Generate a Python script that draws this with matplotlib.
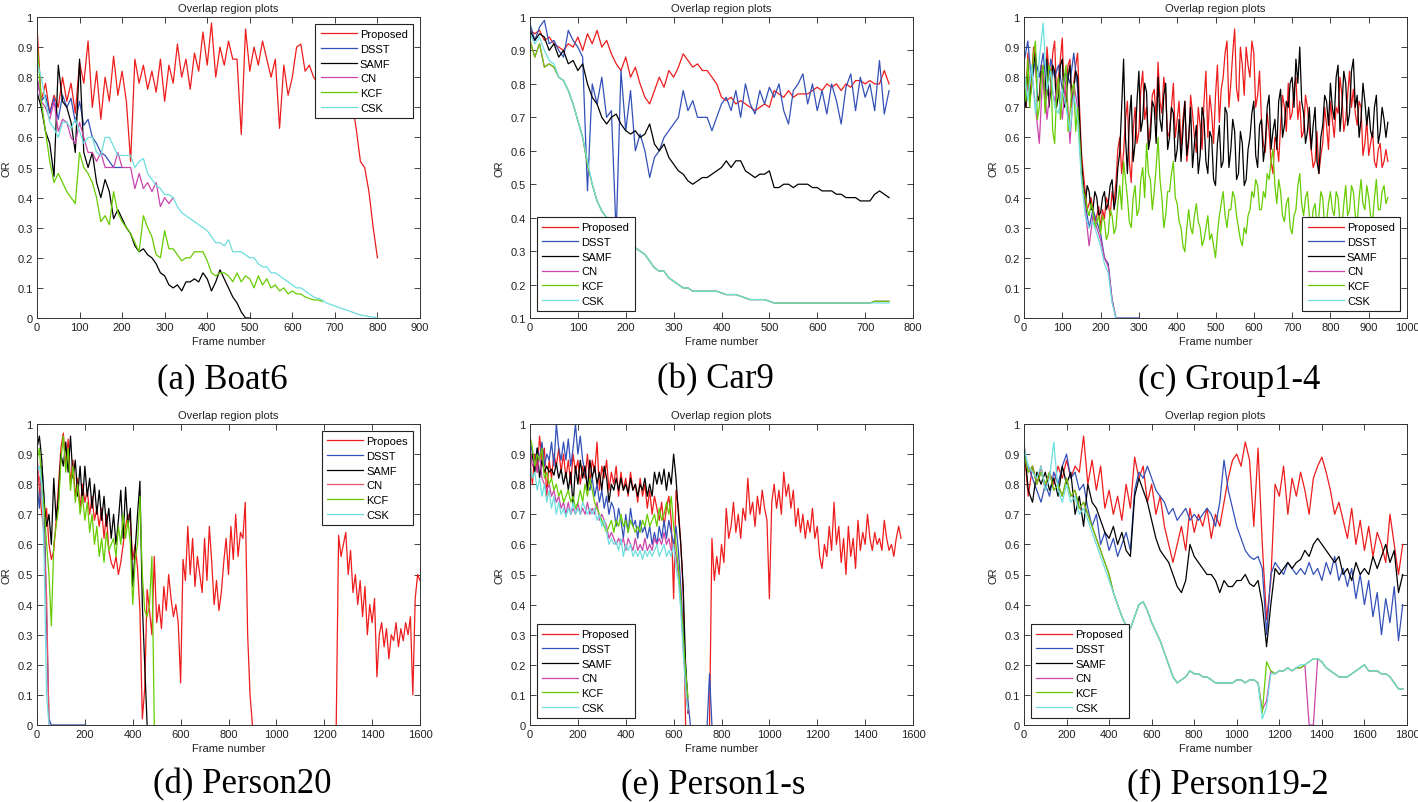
import numpy as np
import matplotlib
matplotlib.use('Agg')
import matplotlib.pyplot as plt
from matplotlib.ticker import FuncFormatter

plt.rcParams['font.family'] = ['Liberation Sans', 'DejaVu Sans']

# line colours (MATLAB-like)
RED = '#ee1c1c'
BLUE = '#3350b8'
BLACK = '#000000'
PINK = '#cc44aa'
GREEN = '#66cc00'
CYAN = '#6ddede'

# ---------------- (a) Boat6, one value every 10 frames ----------------
boat_proposed = [0.97, 0.72, 0.78, 0.68, 0.74, 0.70, 0.80, 0.72, 0.78, 0.68,
                 0.85, 0.78, 0.92, 0.70, 0.82, 0.66, 0.80, 0.72, 0.87, 0.74,
                 0.82, 0.72, 0.52, 0.86, 0.78, 0.84, 0.76, 0.82, 0.75, 0.86,
                 0.72, 0.84, 0.78, 0.91, 0.80, 0.86, 0.76, 0.88, 0.82, 0.95,
                 0.84, 0.98, 0.80, 0.90, 0.84, 0.92, 0.86, 0.86, 0.61, 0.96,
                 0.82, 0.90, 0.84, 0.92, 0.86, 0.80, 0.86, 0.63, 0.84, 0.74,
                 0.80, 0.90, 0.91, 0.82, 0.84, 0.80, 0.78, 0.82, 0.80, 0.84,
                 0.78, 0.82, 0.80, 0.76, 0.72, 0.63, 0.52, 0.50, 0.42, 0.30,
                 0.20]
boat_dsst = [0.80, 0.72, 0.74, 0.68, 0.73, 0.66, 0.74, 0.70, 0.73, 0.65,
             0.72, 0.64, 0.66, 0.60, 0.58, 0.55, 0.54, 0.52, 0.50, 0.50, 0.50]
boat_samf = [0.75, 0.70, 0.62, 0.58, 0.47, 0.84, 0.72, 0.70, 0.65, 0.55,
             0.86, 0.55, 0.50, 0.55, 0.45, 0.40, 0.46, 0.42, 0.33, 0.36,
             0.33, 0.30, 0.28, 0.24, 0.22, 0.23, 0.21, 0.20, 0.18, 0.15,
             0.14, 0.11, 0.10, 0.11, 0.09, 0.12, 0.12, 0.13, 0.12, 0.15,
             0.13, 0.09, 0.12, 0.16, 0.13, 0.10, 0.07, 0.05, 0.02, 0.00, 0.00]
boat_cn = [0.80, 0.72, 0.70, 0.66, 0.72, 0.62, 0.66, 0.65, 0.60, 0.58,
           0.65, 0.60, 0.55, 0.55, 0.52, 0.55, 0.50, 0.50, 0.50, 0.55,
           0.50, 0.50, 0.50, 0.43, 0.48, 0.43, 0.45, 0.42, 0.45, 0.37,
           0.40, 0.38, 0.40]
boat_kcf = [0.92, 0.72, 0.62, 0.52, 0.45, 0.48, 0.45, 0.42, 0.40, 0.38,
            0.55, 0.50, 0.48, 0.45, 0.40, 0.32, 0.34, 0.31, 0.42, 0.35,
            0.32, 0.30, 0.28, 0.25, 0.22, 0.34, 0.30, 0.27, 0.21, 0.20,
            0.29, 0.23, 0.23, 0.21, 0.19, 0.20, 0.20, 0.22, 0.22, 0.22,
            0.19, 0.15, 0.14, 0.15, 0.15, 0.14, 0.12, 0.15, 0.12, 0.14,
            0.13, 0.10, 0.14, 0.11, 0.13, 0.10, 0.11, 0.09, 0.10, 0.08,
            0.09, 0.08, 0.08, 0.07, 0.065, 0.06, 0.06, 0.055]
boat_csk = [0.85, 0.80, 0.72, 0.65, 0.63, 0.60, 0.65, 0.65, 0.63, 0.66,
            0.62, 0.58, 0.60, 0.60, 0.55, 0.54, 0.60, 0.60, 0.57, 0.54,
            0.54, 0.54, 0.54, 0.50, 0.52, 0.53, 0.48, 0.46, 0.44, 0.43,
            0.41, 0.41, 0.40, 0.37, 0.35, 0.34, 0.33, 0.32, 0.31, 0.30,
            0.29, 0.27, 0.25, 0.25, 0.24, 0.26, 0.22, 0.22, 0.22, 0.21,
            0.20, 0.20, 0.18, 0.17, 0.17, 0.15, 0.15, 0.14, 0.13, 0.12,
            0.11, 0.10, 0.10, 0.09, 0.08, 0.07, 0.065, 0.06, 0.05, 0.045,
            0.04, 0.035, 0.03, 0.025, 0.02, 0.015, 0.01, 0.008, 0.005, 0.003,
            0.0]

# ---------------- (b) Car9, every 10 frames ----------------
car_proposed = [0.96, 0.95, 0.96, 0.93, 0.94, 0.92, 0.91, 0.90, 0.92, 0.91,
                0.94, 0.90, 0.95, 0.92, 0.96, 0.91, 0.93, 0.89, 0.86, 0.84,
                0.88, 0.82, 0.85, 0.80, 0.76, 0.74, 0.78, 0.82, 0.79, 0.84,
                0.82, 0.85, 0.89, 0.87, 0.85, 0.86, 0.84, 0.84, 0.82, 0.80,
                0.76, 0.75, 0.76, 0.74, 0.75, 0.74, 0.73, 0.72, 0.73, 0.74,
                0.73, 0.78, 0.77, 0.76, 0.78, 0.76, 0.77, 0.77, 0.77, 0.78,
                0.79, 0.78, 0.80, 0.79, 0.80, 0.78, 0.80, 0.79, 0.81, 0.81,
                0.80, 0.81, 0.80, 0.80, 0.84, 0.80]
car_dsst = [0.98, 0.93, 0.97, 0.99, 0.92, 0.93, 0.90, 0.88, 0.96, 0.93,
            0.91, 0.88, 0.48, 0.80, 0.74, 0.82, 0.70, 0.72, 0.35, 0.84,
            0.66, 0.78, 0.60, 0.65, 0.60, 0.52, 0.58, 0.60, 0.64, 0.66,
            0.68, 0.70, 0.78, 0.72, 0.75, 0.70, 0.70, 0.70, 0.66, 0.70,
            0.74, 0.76, 0.72, 0.78, 0.70, 0.80, 0.74, 0.71, 0.78, 0.74,
            0.79, 0.76, 0.80, 0.72, 0.68, 0.78, 0.80, 0.83, 0.74, 0.80,
            0.72, 0.78, 0.71, 0.80, 0.75, 0.68, 0.79, 0.83, 0.72, 0.82,
            0.76, 0.80, 0.72, 0.87, 0.71, 0.78]
car_samf = [0.96, 0.93, 0.95, 0.94, 0.90, 0.92, 0.88, 0.90, 0.86, 0.87,
            0.84, 0.86, 0.80, 0.76, 0.74, 0.70, 0.68, 0.70, 0.71, 0.68,
            0.66, 0.65, 0.66, 0.64, 0.65, 0.68, 0.62, 0.60, 0.62, 0.58,
            0.56, 0.54, 0.53, 0.51, 0.50, 0.51, 0.52, 0.52, 0.53, 0.54,
            0.55, 0.57, 0.55, 0.57, 0.57, 0.54, 0.53, 0.52, 0.53, 0.53,
            0.54, 0.49, 0.49, 0.50, 0.50, 0.49, 0.50, 0.50, 0.50, 0.49,
            0.49, 0.48, 0.48, 0.48, 0.47, 0.47, 0.46, 0.46, 0.46, 0.45,
            0.45, 0.45, 0.47, 0.48, 0.47, 0.46]
car_kcf = [0.93, 0.88, 0.92, 0.85, 0.86, 0.85, 0.82, 0.81, 0.78, 0.74,
           0.69, 0.64, 0.56, 0.50, 0.45, 0.42, 0.40, 0.38, 0.36, 0.34,
           0.33, 0.31, 0.31, 0.30, 0.29, 0.27, 0.25, 0.24, 0.24, 0.22,
           0.21, 0.20, 0.19, 0.19, 0.18, 0.18, 0.18, 0.18, 0.18, 0.18,
           0.175, 0.17, 0.17, 0.17, 0.165, 0.16, 0.155, 0.155, 0.155, 0.155,
           0.15, 0.145, 0.145, 0.145, 0.145, 0.145, 0.145, 0.145, 0.145, 0.145,
           0.145, 0.145, 0.145, 0.145, 0.145, 0.145, 0.145, 0.145, 0.145, 0.145,
           0.145, 0.145, 0.15, 0.15, 0.15, 0.15]
car_csk = [0.95, 0.92, 0.94, 0.90, 0.87, 0.86, 0.82, 0.81, 0.78, 0.74,
           0.69, 0.64, 0.57, 0.50, 0.45, 0.42, 0.40, 0.38, 0.36, 0.34,
           0.33, 0.31, 0.31, 0.30, 0.29, 0.27, 0.25, 0.24, 0.24, 0.22,
           0.21, 0.20, 0.19, 0.19, 0.18, 0.18, 0.18, 0.18, 0.18, 0.18,
           0.175, 0.17, 0.17, 0.17, 0.165, 0.16, 0.155, 0.155, 0.155, 0.155,
           0.15, 0.145, 0.145, 0.145, 0.145, 0.145, 0.145, 0.145, 0.145, 0.145,
           0.145, 0.145, 0.145, 0.145, 0.145, 0.145, 0.145, 0.145, 0.145, 0.145,
           0.145, 0.145, 0.145, 0.145, 0.145, 0.145]
car_cn = car_kcf

# ---------------- (c) Group1-4 ----------------
# red / black / green are sampled every 5 frames, the rest every 10
group_proposed = [0.78, 0.70, 0.88, 0.74, 0.80, 0.90, 0.86, 0.72, 0.74, 0.84,
                  0.82, 0.70, 0.90, 0.82, 0.78, 0.88, 0.92, 0.74, 0.80, 0.86,
                  0.93, 0.72, 0.76, 0.84, 0.86, 0.70, 0.78, 0.84, 0.88, 0.70,
                  0.55, 0.48, 0.42, 0.36, 0.38, 0.40, 0.36, 0.32, 0.34, 0.37,
                  0.30, 0.36, 0.33, 0.40, 0.38, 0.34, 0.42, 0.38, 0.45, 0.56,
                  0.60, 0.48, 0.55, 0.66, 0.72, 0.52, 0.45, 0.62, 0.70, 0.58,
                  0.62, 0.76, 0.82, 0.66, 0.70, 0.58, 0.64, 0.74, 0.76, 0.66,
                  0.85, 0.72, 0.68, 0.80, 0.74, 0.60, 0.62, 0.70, 0.78, 0.60,
                  0.66, 0.72, 0.56, 0.66, 0.72, 0.52, 0.58, 0.74, 0.68, 0.60,
                  0.55, 0.70, 0.64, 0.56, 0.72, 0.82, 0.60, 0.74, 0.68, 0.58,
                  0.74, 0.84, 0.65, 0.76, 0.80, 0.88, 0.92, 0.70, 0.78, 0.88,
                  0.96, 0.76, 0.72, 0.90, 0.84, 0.74, 0.90, 0.84, 0.80, 0.92,
                  0.88, 0.70, 0.74, 0.82, 0.66, 0.58, 0.55, 0.68, 0.62, 0.52,
                  0.48, 0.60, 0.58, 0.52, 0.64, 0.74, 0.70, 0.62, 0.78, 0.66,
                  0.68, 0.76, 0.80, 0.66, 0.72, 0.60, 0.62, 0.74, 0.70, 0.62,
                  0.56, 0.50, 0.52, 0.62, 0.48, 0.54, 0.58, 0.70, 0.64, 0.56,
                  0.72, 0.66, 0.60, 0.70, 0.68, 0.80, 0.74, 0.62, 0.66, 0.74,
                  0.82, 0.70, 0.76, 0.68, 0.64, 0.72, 0.70, 0.54, 0.58, 0.66,
                  0.54, 0.58, 0.62, 0.52, 0.50, 0.56, 0.58, 0.50, 0.52, 0.56,
                  0.52]
group_dsst = [0.85, 0.92, 0.78, 0.86, 0.80, 0.88, 0.74, 0.86, 0.80, 0.84,
              0.76, 0.82, 0.78, 0.88, 0.76, 0.50, 0.38, 0.30, 0.36, 0.32,
              0.28, 0.20, 0.18, 0.06, 0.00, 0.00, 0.00, 0.00, 0.00, 0.00, 0.00]
group_samf = [0.75, 0.70, 0.84, 0.72, 0.78, 0.84, 0.88, 0.74, 0.72, 0.82,
              0.80, 0.74, 0.86, 0.70, 0.76, 0.84, 0.82, 0.70, 0.74, 0.84,
              0.86, 0.70, 0.72, 0.80, 0.84, 0.72, 0.76, 0.82, 0.80, 0.66,
              0.52, 0.44, 0.38, 0.44, 0.42, 0.36, 0.36, 0.42, 0.40, 0.34,
              0.35, 0.40, 0.42, 0.36, 0.38, 0.44, 0.46, 0.36, 0.40, 0.50,
              0.55, 0.70, 0.86, 0.60, 0.48, 0.66, 0.74, 0.52, 0.58, 0.72,
              0.82, 0.62, 0.66, 0.78, 0.75, 0.56, 0.60, 0.72, 0.70, 0.58,
              0.80, 0.66, 0.62, 0.74, 0.78, 0.56, 0.60, 0.70, 0.68, 0.52,
              0.56, 0.66, 0.52, 0.62, 0.72, 0.54, 0.60, 0.70, 0.50, 0.58,
              0.64, 0.48, 0.54, 0.70, 0.66, 0.52, 0.48, 0.62, 0.60, 0.46,
              0.44, 0.58, 0.64, 0.50, 0.52, 0.70, 0.68, 0.50, 0.56, 0.66,
              0.62, 0.46, 0.48, 0.62, 0.58, 0.44, 0.46, 0.56, 0.60, 0.68,
              0.72, 0.54, 0.50, 0.64, 0.66, 0.52, 0.58, 0.70, 0.74, 0.56,
              0.62, 0.66, 0.56, 0.72, 0.76, 0.60, 0.64, 0.72, 0.70, 0.78,
              0.80, 0.70, 0.86, 0.78, 0.90, 0.72, 0.68, 0.58, 0.62, 0.70,
              0.56, 0.64, 0.70, 0.52, 0.48, 0.60, 0.64, 0.74, 0.72, 0.64,
              0.78, 0.70, 0.66, 0.80, 0.84, 0.62, 0.70, 0.82, 0.78, 0.64,
              0.68, 0.82, 0.86, 0.70, 0.74, 0.60, 0.66, 0.78, 0.72, 0.64,
              0.70, 0.62, 0.60, 0.70, 0.74, 0.58, 0.62, 0.70, 0.66, 0.60,
              0.65]
group_cn = [0.80, 0.76, 0.82, 0.70, 0.58, 0.84, 0.66, 0.78, 0.72, 0.80,
            0.66, 0.80, 0.58, 0.78, 0.70, 0.48, 0.36, 0.24, 0.34, 0.30,
            0.26, 0.20, 0.17, 0.06, 0.00]
group_kcf = [0.80, 0.72, 0.86, 0.70, 0.78, 0.88, 0.92, 0.66, 0.70, 0.80,
             0.84, 0.68, 0.76, 0.84, 0.82, 0.62, 0.58, 0.74, 0.80, 0.66,
             0.74, 0.80, 0.84, 0.62, 0.68, 0.76, 0.78, 0.62, 0.70, 0.60,
             0.48, 0.42, 0.40, 0.36, 0.34, 0.38, 0.36, 0.30, 0.32, 0.34,
             0.28, 0.34, 0.32, 0.26, 0.28, 0.36, 0.34, 0.28, 0.30, 0.38,
             0.44, 0.36, 0.52, 0.46, 0.40, 0.32, 0.30, 0.40, 0.44, 0.34,
             0.36, 0.46, 0.50, 0.40, 0.58, 0.48, 0.46, 0.36, 0.42, 0.50,
             0.60, 0.46, 0.40, 0.30, 0.34, 0.42, 0.42, 0.48, 0.52, 0.40,
             0.38, 0.32, 0.30, 0.24, 0.22, 0.30, 0.36, 0.30, 0.28, 0.34,
             0.38, 0.32, 0.30, 0.24, 0.26, 0.30, 0.34, 0.26, 0.28, 0.24,
             0.20, 0.28, 0.34, 0.38, 0.42, 0.34, 0.30, 0.36, 0.36, 0.42,
             0.40, 0.34, 0.30, 0.26, 0.24, 0.30, 0.28, 0.34, 0.36, 0.42,
             0.40, 0.46, 0.44, 0.36, 0.36, 0.42, 0.40, 0.48, 0.46, 0.52,
             0.56, 0.44, 0.38, 0.46, 0.42, 0.34, 0.32, 0.38, 0.40, 0.30,
             0.28, 0.34, 0.36, 0.44, 0.48, 0.38, 0.34, 0.40, 0.42, 0.34,
             0.30, 0.36, 0.38, 0.30, 0.34, 0.42, 0.40, 0.30, 0.32, 0.38,
             0.42, 0.36, 0.34, 0.42, 0.40, 0.32, 0.30, 0.38, 0.44, 0.34,
             0.36, 0.44, 0.42, 0.34, 0.32, 0.40, 0.46, 0.38, 0.36, 0.44,
             0.40, 0.34, 0.32, 0.40, 0.46, 0.36, 0.36, 0.42, 0.44, 0.38,
             0.40]
group_csk = [0.82, 0.72, 0.84, 0.68, 0.86, 0.98, 0.76, 0.82, 0.70, 0.68,
             0.76, 0.70, 0.62, 0.74, 0.66, 0.46, 0.34, 0.30, 0.32, 0.28,
             0.24, 0.18, 0.15, 0.05, 0.00]

# ---------------- (d) Person20, every 10 frames ----------------
p20_proposed_a = [0.90, 0.78, 0.70, 0.65, 0.72, 0.60, 0.55, 0.58, 0.68, 0.80,
                  0.92, 0.97, 0.86, 0.95, 0.80, 0.88, 0.76, 0.82, 0.72, 0.80,
                  0.74, 0.78, 0.70, 0.76, 0.68, 0.72, 0.66, 0.72, 0.62, 0.70,
                  0.58, 0.54, 0.52, 0.56, 0.50, 0.54, 0.60, 0.66, 0.70, 0.68,
                  0.55, 0.60, 0.52, 0.38, 0.02, 0.12, 0.45, 0.38, 0.30, 0.56,
                  0.34, 0.40, 0.32, 0.46, 0.38, 0.50, 0.42, 0.36, 0.40, 0.34,
                  0.14, 0.55, 0.48, 0.66, 0.50, 0.62, 0.46, 0.56, 0.50, 0.44,
                  0.62, 0.48, 0.66, 0.54, 0.40, 0.48, 0.38, 0.44, 0.54, 0.62,
                  0.50, 0.66, 0.55, 0.70, 0.56, 0.64, 0.62, 0.74, 0.30, 0.10,
                  0.00]
p20_proposed_b = [0.00, 0.63, 0.56, 0.60, 0.64, 0.50, 0.58, 0.44, 0.50, 0.40,
                  0.48, 0.36, 0.46, 0.30, 0.40, 0.34, 0.42, 0.16, 0.30, 0.34,
                  0.26, 0.32, 0.22, 0.30, 0.28, 0.34, 0.26, 0.32, 0.28, 0.34,
                  0.30, 0.36, 0.10, 0.42, 0.50, 0.48]
p20_dsst = [0.80, 0.72, 0.86, 0.75, 0.36, 0.02, 0.00, 0.00, 0.00, 0.00,
            0.00, 0.00, 0.00, 0.00, 0.00, 0.00, 0.00, 0.00, 0.00, 0.00, 0.00]
p20_samf = [0.92, 0.96, 0.88, 0.74, 0.66, 0.70, 0.60, 0.82, 0.68, 0.76,
            0.90, 0.86, 0.94, 0.84, 0.96, 0.82, 0.88, 0.76, 0.86, 0.74,
            0.86, 0.76, 0.82, 0.72, 0.80, 0.70, 0.78, 0.68, 0.76, 0.66,
            0.72, 0.62, 0.70, 0.60, 0.68, 0.78, 0.62, 0.79, 0.66, 0.72,
            0.46, 0.58, 0.70, 0.81, 0.40, 0.20, 0.00]
p20_cn = [0.85, 0.82, 0.76, 0.60, 0.43, 0.00]
p20_kcf = [0.88, 0.92, 0.80, 0.72, 0.60, 0.50, 0.33, 0.60, 0.66, 0.72,
           0.88, 0.96, 0.84, 0.92, 0.78, 0.86, 0.74, 0.80, 0.70, 0.76,
           0.68, 0.74, 0.64, 0.70, 0.60, 0.66, 0.56, 0.62, 0.54, 0.64,
           0.58, 0.60, 0.62, 0.56, 0.66, 0.60, 0.70, 0.62, 0.68, 0.60,
           0.40, 0.55, 0.60, 0.76, 0.50, 0.38, 0.36, 0.40, 0.56, 0.00]
p20_csk = [0.84, 0.86, 0.80, 0.55, 0.10, 0.00]

# ---------------- (e) Person1-s, every 10 frames ----------------
p1s_proposed_a = [0.88, 0.80, 0.90, 0.84, 0.96, 0.88, 0.92, 0.76, 0.88, 0.82,
                  0.90, 0.86, 0.92, 0.84, 0.90, 0.82, 0.88, 0.80, 0.90, 0.84,
                  0.88, 0.80, 0.86, 0.82, 0.90, 0.80, 0.88, 0.84, 0.94, 0.78,
                  0.86, 0.82, 0.88, 0.78, 0.84, 0.80, 0.86, 0.76, 0.84, 0.78,
                  0.82, 0.76, 0.84, 0.78, 0.80, 0.74, 0.82, 0.76, 0.80, 0.72,
                  0.78, 0.70, 0.76, 0.72, 0.68, 0.74, 0.66, 0.72, 0.76, 0.68,
                  0.42, 0.78, 0.72, 0.60, 0.44, 0.00]
p1s_proposed_b = [0.00, 0.62, 0.48, 0.56, 0.50, 0.60, 0.54, 0.72, 0.62, 0.66,
                  0.74, 0.64, 0.70, 0.62, 0.72, 0.68, 0.82, 0.70, 0.74, 0.66,
                  0.76, 0.70, 0.78, 0.72, 0.68, 0.42, 0.74, 0.80, 0.72, 0.78,
                  0.70, 0.84, 0.76, 0.80, 0.72, 0.78, 0.66, 0.72, 0.64, 0.70,
                  0.62, 0.68, 0.64, 0.72, 0.62, 0.66, 0.56, 0.52, 0.60, 0.56,
                  0.66, 0.58, 0.74, 0.60, 0.66, 0.54, 0.62, 0.50, 0.66, 0.56,
                  0.62, 0.52, 0.68, 0.58, 0.64, 0.60, 0.70, 0.62, 0.58, 0.64,
                  0.60, 0.62, 0.58, 0.68, 0.62, 0.58, 0.60, 0.56, 0.62, 0.66,
                  0.62]
p1s_dsst_a = [0.96, 0.90, 0.86, 0.92, 0.88, 0.94, 0.86, 0.90, 0.88, 0.94,
              0.86, 1.00, 0.92, 0.88, 0.94, 0.88, 0.95, 0.86, 0.92, 1.00,
              0.90, 0.96, 0.88, 0.84, 0.80, 0.78, 0.82, 0.76, 0.80, 0.74,
              0.78, 0.72, 0.76, 0.70, 0.74, 0.72, 0.66, 0.72, 0.68, 0.62,
              0.70, 0.64, 0.72, 0.66, 0.68, 0.62, 0.68, 0.64, 0.66, 0.62,
              0.66, 0.60, 0.64, 0.60, 0.66, 0.62, 0.68, 0.62, 0.68, 0.64,
              0.60, 0.66, 0.58, 0.46, 0.32, 0.20, 0.08, 0.00]
p1s_dsst_b = [0.00, 0.17, 0.00]
p1s_samf = [0.86, 0.90, 0.84, 0.92, 0.82, 0.88, 0.84, 0.86, 0.84, 0.85,
            0.83, 0.87, 0.82, 0.85, 0.80, 0.84, 0.78, 0.84, 0.73, 0.86,
            0.80, 0.88, 0.82, 0.86, 0.78, 0.88, 0.82, 0.86, 0.80, 0.84,
            0.78, 0.86, 0.82, 0.74, 0.80, 0.78, 0.82, 0.78, 0.82, 0.78,
            0.80, 0.77, 0.82, 0.78, 0.80, 0.76, 0.80, 0.78, 0.82, 0.76,
            0.80, 0.76, 0.84, 0.80, 0.84, 0.80, 0.85, 0.78, 0.84, 0.80,
            0.90, 0.82, 0.70, 0.60, 0.46, 0.20, 0.04]
p1s_cn = [0.92, 0.86, 0.88, 0.84, 0.90, 0.82, 0.80, 0.78, 0.80, 0.76,
          0.78, 0.74, 0.76, 0.72, 0.74, 0.70, 0.74, 0.70, 0.72, 0.70,
          0.74, 0.70, 0.72, 0.70, 0.74, 0.70, 0.72, 0.70, 0.74, 0.68,
          0.70, 0.68, 0.66, 0.62, 0.64, 0.62, 0.60, 0.62, 0.60, 0.62,
          0.58, 0.62, 0.60, 0.58, 0.62, 0.58, 0.60, 0.58, 0.62, 0.58,
          0.60, 0.58, 0.62, 0.60, 0.62, 0.60, 0.64, 0.60, 0.62, 0.58,
          0.60, 0.56, 0.50, 0.40, 0.26, 0.14, 0.04]
p1s_kcf = [0.96, 0.92, 0.86, 0.90, 0.88, 0.92, 0.82, 0.84, 0.80, 0.82,
           0.78, 0.80, 0.76, 0.78, 0.74, 0.76, 0.78, 0.74, 0.76, 0.72,
           0.74, 0.78, 0.74, 0.80, 0.76, 0.82, 0.78, 0.74, 0.72, 0.70,
           0.68, 0.66, 0.64, 0.66, 0.68, 0.64, 0.68, 0.66, 0.70, 0.66,
           0.68, 0.64, 0.68, 0.66, 0.64, 0.66, 0.64, 0.68, 0.66, 0.70,
           0.66, 0.68, 0.70, 0.66, 0.72, 0.68, 0.70, 0.74, 0.70, 0.76,
           0.66, 0.60, 0.52, 0.42, 0.30, 0.18, 0.09]
p1s_csk = [0.86, 0.82, 0.84, 0.78, 0.82, 0.76, 0.80, 0.74, 0.78, 0.72,
           0.76, 0.70, 0.74, 0.70, 0.72, 0.69, 0.72, 0.70, 0.74, 0.70,
           0.72, 0.70, 0.74, 0.72, 0.70, 0.72, 0.70, 0.72, 0.68, 0.70,
           0.66, 0.68, 0.64, 0.60, 0.62, 0.60, 0.61, 0.58, 0.62, 0.56,
           0.60, 0.58, 0.60, 0.56, 0.58, 0.56, 0.58, 0.55, 0.58, 0.56,
           0.58, 0.56, 0.58, 0.60, 0.56, 0.58, 0.60, 0.56, 0.58, 0.56,
           0.60, 0.52, 0.48, 0.38, 0.24, 0.12, 0.05]

# ---------------- (f) Person19-2, every 20 frames ----------------
p19_proposed = [0.92, 0.76, 0.86, 0.80, 0.86, 0.78, 0.84, 0.80, 0.86, 0.82,
                0.88, 0.82, 0.86, 0.84, 0.96, 0.80, 0.88, 0.78, 0.86, 0.72,
                0.78, 0.70, 0.76, 0.68, 0.80, 0.72, 0.89, 0.82, 0.86, 0.74,
                0.80, 0.70, 0.76, 0.66, 0.60, 0.54, 0.60, 0.66, 0.58, 0.72,
                0.64, 0.70, 0.66, 0.72, 0.62, 0.70, 0.66, 0.74, 0.82, 0.88,
                0.90, 0.86, 0.94, 0.88, 0.66, 0.92, 0.60, 0.35, 0.48, 0.80,
                0.76, 0.86, 0.70, 0.82, 0.76, 0.84, 0.78, 0.70, 0.82, 0.86,
                0.89, 0.84, 0.78, 0.70, 0.74, 0.68, 0.62, 0.72, 0.60, 0.68,
                0.58, 0.66, 0.56, 0.64, 0.60, 0.54, 0.70, 0.60, 0.50, 0.60]
p19_dsst = [0.90, 0.86, 0.82, 0.78, 0.74, 0.80, 0.76, 0.84, 0.80, 0.86,
            0.90, 0.82, 0.84, 0.78, 0.80, 0.72, 0.66, 0.70, 0.60, 0.64,
            0.58, 0.62, 0.56, 0.60, 0.64, 0.58, 0.78, 0.84, 0.82, 0.86,
            0.82, 0.78, 0.76, 0.74, 0.70, 0.72, 0.68, 0.70, 0.72, 0.68,
            0.70, 0.68, 0.70, 0.72, 0.70, 0.66, 0.74, 0.88, 0.78, 0.72,
            0.66, 0.62, 0.58, 0.56, 0.55, 0.56, 0.52, 0.30, 0.50, 0.54,
            0.52, 0.50, 0.54, 0.52, 0.50, 0.52, 0.50, 0.54, 0.50, 0.52,
            0.48, 0.54, 0.50, 0.56, 0.48, 0.52, 0.46, 0.52, 0.42, 0.50,
            0.40, 0.48, 0.36, 0.44, 0.30, 0.42, 0.34, 0.46, 0.28, 0.40]
p19_samf = [0.94, 0.78, 0.74, 0.84, 0.80, 0.84, 0.78, 0.82, 0.76, 0.86,
            0.80, 0.84, 0.70, 0.76, 0.66, 0.80, 0.74, 0.72, 0.68, 0.64,
            0.62, 0.66, 0.60, 0.64, 0.58, 0.56, 0.76, 0.82, 0.78, 0.74,
            0.68, 0.62, 0.58, 0.56, 0.54, 0.50, 0.46, 0.44, 0.48, 0.60,
            0.56, 0.54, 0.52, 0.50, 0.50, 0.48, 0.44, 0.48, 0.46, 0.46,
            0.48, 0.48, 0.50, 0.47, 0.46, 0.48, 0.40, 0.26, 0.40, 0.52,
            0.50, 0.52, 0.54, 0.52, 0.54, 0.55, 0.58, 0.56, 0.60, 0.62,
            0.60, 0.58, 0.56, 0.54, 0.56, 0.50, 0.52, 0.48, 0.54, 0.50,
            0.52, 0.50, 0.56, 0.52, 0.56, 0.60, 0.54, 0.58, 0.44, 0.50]
p19_cn = [0.90, 0.84, 0.86, 0.80, 0.84, 0.80, 0.84, 0.78, 0.80, 0.76,
          0.82, 0.76, 0.78, 0.72, 0.74, 0.70, 0.66, 0.62, 0.58, 0.54,
          0.50, 0.44, 0.40, 0.36, 0.33, 0.32, 0.36, 0.40, 0.41, 0.38,
          0.34, 0.31, 0.28, 0.24, 0.20, 0.16, 0.14, 0.15, 0.16, 0.18,
          0.17, 0.17, 0.16, 0.16, 0.15, 0.14, 0.14, 0.14, 0.14, 0.14,
          0.15, 0.15, 0.14, 0.15, 0.15, 0.14, 0.05, 0.08, 0.18, 0.17,
          0.18, 0.18, 0.19, 0.18, 0.19, 0.19, 0.20, 0.00, 0.00, 0.22,
          0.21, 0.19, 0.18, 0.17, 0.16, 0.16, 0.16, 0.17, 0.18, 0.19,
          0.20, 0.18, 0.18, 0.18, 0.17, 0.17, 0.16, 0.14, 0.12, 0.12]
p19_kcf = [0.90, 0.84, 0.86, 0.80, 0.84, 0.80, 0.84, 0.78, 0.80, 0.76,
           0.82, 0.76, 0.78, 0.72, 0.74, 0.70, 0.66, 0.62, 0.58, 0.54,
           0.50, 0.44, 0.40, 0.36, 0.33, 0.32, 0.36, 0.40, 0.41, 0.38,
           0.34, 0.31, 0.28, 0.24, 0.20, 0.16, 0.14, 0.15, 0.16, 0.18,
           0.17, 0.17, 0.16, 0.16, 0.15, 0.14, 0.14, 0.14, 0.14, 0.14,
           0.15, 0.15, 0.14, 0.15, 0.15, 0.14, 0.04, 0.21, 0.18, 0.17,
           0.18, 0.18, 0.19, 0.18, 0.19, 0.19, 0.20, 0.21, 0.22, 0.22,
           0.21, 0.19, 0.18, 0.17, 0.16, 0.16, 0.16, 0.17, 0.18, 0.19,
           0.20, 0.18, 0.18, 0.18, 0.17, 0.17, 0.16, 0.14, 0.12, 0.12]
p19_csk = [0.92, 0.86, 0.84, 0.82, 0.86, 0.78, 0.82, 0.94, 0.78, 0.74,
           0.80, 0.74, 0.76, 0.70, 0.72, 0.68, 0.64, 0.60, 0.56, 0.52,
           0.48, 0.44, 0.40, 0.36, 0.33, 0.32, 0.36, 0.40, 0.41, 0.38,
           0.34, 0.31, 0.28, 0.24, 0.20, 0.16, 0.14, 0.15, 0.16, 0.18,
           0.17, 0.17, 0.16, 0.16, 0.15, 0.14, 0.14, 0.14, 0.14, 0.14,
           0.15, 0.15, 0.14, 0.15, 0.15, 0.14, 0.02, 0.06, 0.17, 0.17,
           0.18, 0.18, 0.19, 0.18, 0.19, 0.20, 0.20, 0.21, 0.22, 0.22,
           0.21, 0.19, 0.18, 0.17, 0.16, 0.16, 0.16, 0.17, 0.18, 0.19,
           0.20, 0.18, 0.18, 0.18, 0.17, 0.17, 0.16, 0.14, 0.12, 0.12]


# (label, first frame, frame step, values, colour); '_' labels stay out of the legend
panels = [
    dict(caption='(a) Boat6', xmax=900, ymin=0.0, loc='upper right', cap=(222, 380),
         series=[('Proposed', 0, 10, boat_proposed, RED),
                 ('DSST', 0, 10, boat_dsst, BLUE),
                 ('SAMF', 0, 10, boat_samf, BLACK),
                 ('CN', 0, 10, boat_cn, PINK),
                 ('KCF', 0, 10, boat_kcf, GREEN),
                 ('CSK', 0, 10, boat_csk, CYAN)]),
    dict(caption='(b) Car9', xmax=800, ymin=0.1, loc='lower left', cap=(715, 380),
         series=[('Proposed', 0, 10, car_proposed, RED),
                 ('DSST', 0, 10, car_dsst, BLUE),
                 ('SAMF', 0, 10, car_samf, BLACK),
                 ('CN', 0, 10, car_cn, PINK),
                 ('KCF', 0, 10, car_kcf, GREEN),
                 ('CSK', 0, 10, car_csk, CYAN)]),
    dict(caption='(c) Group1-4', xmax=1000, ymin=0.0, loc='lower right', cap=(1229, 380),
         series=[('Proposed', 0, 5, group_proposed, RED),
                 ('DSST', 0, 10, group_dsst, BLUE),
                 ('SAMF', 0, 5, group_samf, BLACK),
                 ('CN', 0, 10, group_cn, PINK),
                 ('KCF', 0, 5, group_kcf, GREEN),
                 ('CSK', 0, 10, group_csk, CYAN)]),
    dict(caption='(d) Person20', xmax=1600, ymin=0.0, loc='upper right', cap=(242, 785),
         series=[('Propoes', 0, 10, p20_proposed_a, RED),
                 ('_p', 1250, 10, p20_proposed_b, RED),
                 ('DSST', 0, 10, p20_dsst, BLUE),
                 ('SAMF', 0, 10, p20_samf, BLACK),
                 ('CN', 0, 10, p20_cn, '#e8506a'),
                 ('KCF', 0, 10, p20_kcf, GREEN),
                 ('CSK', 0, 10, p20_csk, CYAN)]),
    dict(caption='(e) Person1-s', xmax=1600, ymin=0.0, loc='lower left', cap=(713, 785),
         series=[('Proposed', 0, 10, p1s_proposed_a, RED),
                 ('_p', 750, 10, p1s_proposed_b, RED),
                 ('DSST', 0, 10, p1s_dsst_a, BLUE),
                 ('_d', 740, 10, p1s_dsst_b, BLUE),
                 ('SAMF', 0, 10, p1s_samf, BLACK),
                 ('CN', 0, 10, p1s_cn, PINK),
                 ('KCF', 0, 10, p1s_kcf, GREEN),
                 ('CSK', 0, 10, p1s_csk, CYAN)]),
    dict(caption='(f) Person19-2', xmax=1800, ymin=0.0, loc='lower left', cap=(1228, 785),
         series=[('Proposed', 0, 20, p19_proposed, RED),
                 ('DSST', 0, 20, p19_dsst, BLUE),
                 ('SAMF', 0, 20, p19_samf, BLACK),
                 ('CN', 0, 20, p19_cn, PINK),
                 ('KCF', 0, 20, p19_kcf, GREEN),
                 ('CSK', 0, 20, p19_csk, CYAN)]),
]

W, H = 1418, 803
fig = plt.figure(figsize=(W / 100, H / 100), dpi=100)

lefts = [37, 530, 1024]
tops = [18, 425]
ax_w, ax_h = 383, 301

for i, p in enumerate(panels):
    row, col = divmod(i, 3)
    x0 = lefts[col]
    y0 = tops[row]
    ax = fig.add_axes([x0 / W, 1 - (y0 + ax_h) / H, ax_w / W, ax_h / H])

    for name, start, step, vals, color in p['series']:
        x = start + step * np.arange(len(vals))
        ax.plot(x, vals, color=color, lw=0.9, label=name)

    ax.set_xlim(0, p['xmax'])
    ax.set_ylim(p['ymin'], 1.0)
    xstep = 100 if p['xmax'] <= 1000 else 200
    ax.set_xticks(np.arange(0, p['xmax'] + 1, xstep))
    ax.set_yticks(np.arange(round(p['ymin'] * 10), 11) / 10)
    ax.yaxis.set_major_formatter(FuncFormatter(lambda v, pos: f'{v:g}'))
    ax.tick_params(direction='in', top=True, right=True, length=4, width=0.6,
                   labelsize=8, pad=3, colors='#222222')
    for s in ax.spines.values():
        s.set_linewidth(0.7)
        s.set_color('#333333')

    ax.set_title('Overlap region plots', fontsize=8, pad=4, color='#222222')
    ax.set_xlabel('Frame number', fontsize=8, labelpad=3, color='#222222')
    ax.set_ylabel('OR', fontsize=8, labelpad=4, color='#222222')

    leg = ax.legend(loc=p['loc'], fontsize=8, fancybox=False, edgecolor='#222222',
                    framealpha=1, handlelength=3.2, handletextpad=0.3,
                    labelspacing=0.42, borderpad=0.5, borderaxespad=0.6)
    leg.get_frame().set_linewidth(0.8)

    cx, cy = p['cap']
    fig.text(cx / W, 1 - cy / H, p['caption'], ha='center', va='center',
             fontsize=25, family='Liberation Serif')

fig.savefig('out.png', dpi=100)
